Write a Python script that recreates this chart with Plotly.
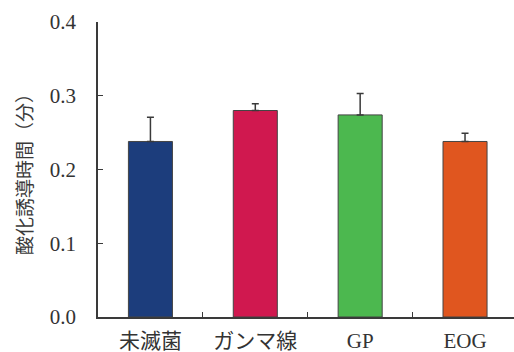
import plotly.graph_objects as go

# Oxidation induction time by sterilization method
categories = ["未滅菌", "ガンマ線", "GP", "EOG"]
values = [0.238, 0.280, 0.274, 0.238]
errors = [0.033, 0.009, 0.029, 0.011]
colors = ["#1c3d7c", "#d0184f", "#4cb84f", "#e0561f"]
y_ticks = [0.0, 0.1, 0.2, 0.3, 0.4]
y_ticktext = ["0.0", "0.1", "0.2", "0.3", "0.4"]

font_family = "Liberation Serif, Noto Sans CJK JP, serif"
axis_color = "#3a3a3a"

fig = go.Figure(
    go.Bar(
        x=categories,
        y=values,
        width=0.42,
        marker=dict(color=colors, line=dict(color="#444444", width=1)),
        error_y=dict(
            type="data",
            symmetric=False,
            array=errors,
            arrayminus=[0] * len(errors),
            color=axis_color,
            thickness=1.5,
            width=3.5,
        ),
    )
)

fig.update_layout(
    width=514,
    height=352,
    margin=dict(l=98, r=0, t=22, b=35),
    paper_bgcolor="white",
    plot_bgcolor="white",
    showlegend=False,
    font=dict(family=font_family, size=21, color="#333333"),
    xaxis=dict(
        type="category",
        range=[-0.5, 3.467],
        showline=True,
        linecolor=axis_color,
        linewidth=1.5,
        ticks="inside",
        tickson="boundaries",
        ticklen=5,
        tickcolor=axis_color,
        tickwidth=1,
        showgrid=False,
        tickfont=dict(family=font_family, size=21),
        ticklabelstandoff=4,
    ),
    yaxis=dict(
        range=[0, 0.4],
        tickvals=y_ticks,
        ticktext=y_ticktext,
        showline=True,
        linecolor=axis_color,
        linewidth=1.5,
        ticks="inside",
        ticklen=5,
        tickcolor=axis_color,
        tickwidth=1,
        showgrid=False,
        zeroline=False,
        tickfont=dict(family=font_family, size=21),
        ticklabelstandoff=16,
        title=dict(
            text="酸化誘導時間（分）",
            font=dict(family="Noto Sans CJK JP", size=19, color="#3a3a3a"),
            standoff=12,
        ),
    ),
)

fig.write_html("out.html")
